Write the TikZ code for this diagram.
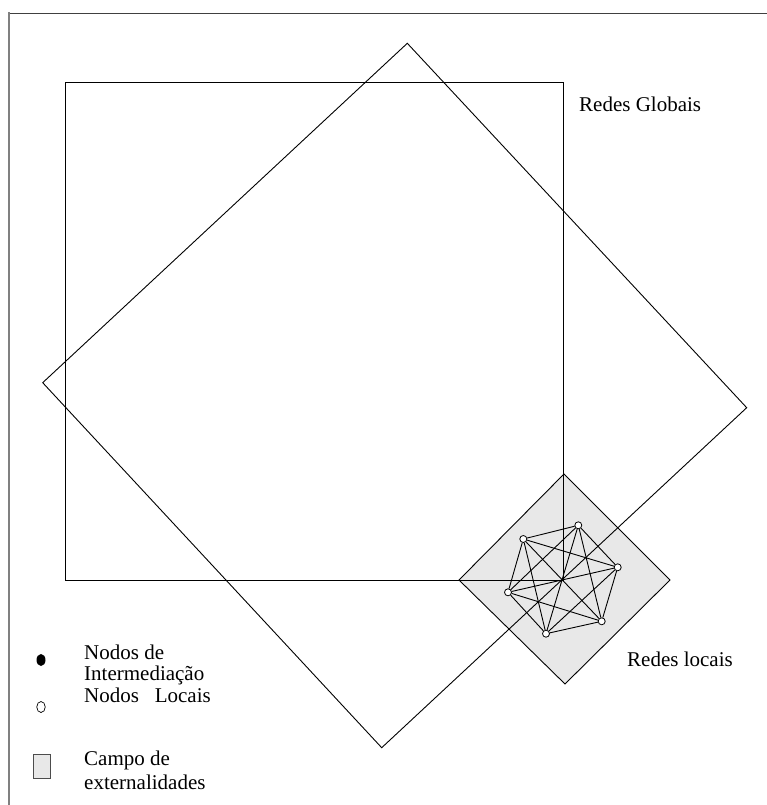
\documentclass[tikz,border=0pt]{standalone}
\usepackage{fontspec}
\setmainfont{Liberation Serif}
\usetikzlibrary{shapes.geometric}
\definecolor{campo}{HTML}{E8E8E8}
\begin{document}
\begin{tikzpicture}[x=1pt,y=-1pt,
  edge/.style={draw=black,line width=0.9pt},
  lbl/.style={inner sep=0pt,anchor=west,font=\fontsize{21}{24}\selectfont},
  local/.style={circle,draw=black,fill=white,line width=0.8pt,inner sep=0pt,minimum size=7pt}]
\useasboundingbox (0,0) rectangle (767,805);
% frame
\draw[black!75,line width=0.9pt] (8,13) -- (767,13);
\draw[black!50,line width=1.8pt] (9,12.5) -- (9,805);
% field of externalities
\fill[campo] (564,474) -- (670,580) -- (565,684) -- (459,580) -- cycle;
% global networks
\draw[edge] (65,82) rectangle (563,580);
\draw[edge] (407.3,43.3) -- (746.7,407.7) -- (381.7,747.7) -- (42.7,382.7) -- cycle;
\draw[edge] (564,474) -- (670,580) -- (565,684) -- (459,580) -- cycle;
% local nodes
\node[local] (n1) at (523.3,539) {};
\node[local] (n2) at (578.3,525.3) {};
\node[local] (n3) at (617.7,567.3) {};
\node[local] (n4) at (601.7,621.3) {};
\node[local] (n5) at (546,633.7) {};
\node[local] (n6) at (508,592.3) {};
\foreach \a/\b in {n1/n2,n1/n3,n1/n4,n1/n5,n1/n6,n2/n3,n2/n4,n2/n5,n2/n6,n3/n4,n3/n5,n3/n6,n4/n5,n4/n6,n5/n6}
  \draw[edge] (\a) -- (\b);
% labels
\node[lbl] (rg) at (579,104) {Redes Globais};
\node[lbl] (rl) at (627,659) {Redes locais};
% legend
\node[ellipse,fill=black,inner sep=0pt,minimum width=9pt,minimum height=12pt] (k1) at (41,660) {};
\node[ellipse,draw=black,line width=0.7pt,inner sep=0pt,minimum width=8.5pt,minimum height=11pt] (k2) at (41,707) {};
\node[draw=black!70,fill=campo,line width=0.8pt,inner sep=0pt,minimum width=17pt,minimum height=24pt] (k3) at (41.5,766) {};
\node[lbl] (t1) at (84,652) {Nodos de};
\node[lbl] (t2) at (84,675) {Intermediação};
\node[lbl] (t3) at (84,695) {Nodos\ \ \ Locais};
\node[lbl] (t4) at (84,760) {Campo de};
\node[lbl] (t5) at (84,782) {externalidades};
\end{tikzpicture}
\end{document}
